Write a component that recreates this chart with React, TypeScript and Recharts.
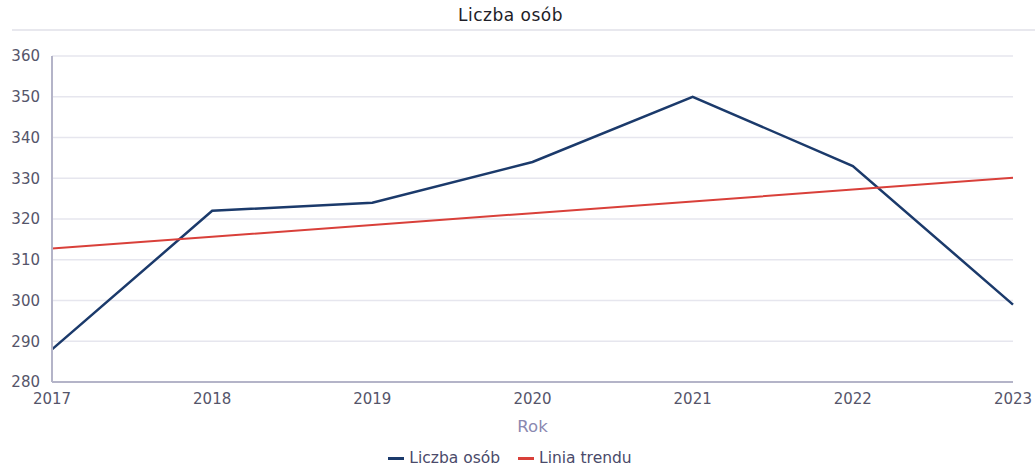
import React from "react";
import { LineChart, Line, XAxis, YAxis, CartesianGrid, Legend } from "recharts";

const years = ["2017", "2018", "2019", "2020", "2021", "2022", "2023"];
const liczbaOsob = [288, 322, 324, 334, 350, 333, 299];
const liniaTrendu = [312.75, 315.64, 318.54, 321.43, 324.32, 327.21, 330.11];
const yTicks = [280, 290, 300, 310, 320, 330, 340, 350, 360];

const data = years.map((y, i) => ({ rok: y, osoby: liczbaOsob[i], trend: liniaTrendu[i] }));

const FONT = "'DejaVu Sans', Verdana, sans-serif";

const renderLegend = () => (
  <div style={{ display: "flex", justifyContent: "center", alignItems: "center", height: 24, fontFamily: FONT, fontSize: 15.5, color: "#4a4a6a" }}>
    {[
      { label: "Liczba osób", color: "#1b3a6b" },
      { label: "Linia trendu", color: "#d9403a" },
    ].map((it, i) => (
      <div key={it.label} style={{ display: "flex", alignItems: "center", marginLeft: i === 0 ? 0 : 18 }}>
        <span style={{ display: "inline-block", width: 16, height: 3, background: it.color, marginRight: 5 }} />
        <span>{it.label}</span>
      </div>
    ))}
  </div>
);

export default function App() {
  return (
    <div style={{ position: "absolute", left: 0, top: 0, width: 1035, height: 470, background: "#fff", fontFamily: FONT }}>
      <div style={{ position: "absolute", left: 0, top: 5, width: 1021, textAlign: "center", fontSize: 17, letterSpacing: 0.5, color: "#1e1e28" }}>
        Liczba osób
      </div>
      <div style={{ position: "absolute", left: 12, top: 29, width: 1023, height: 2, background: "#e8e8ee" }} />
      <LineChart
        width={1035}
        height={470}
        data={data}
        margin={{ top: 56, right: 22, left: 7, bottom: 0 }}
      >
        <CartesianGrid vertical={false} stroke="#e6e6ee" strokeWidth={1.5} />
        <XAxis
          dataKey="rok"
          height={64}
          tickLine={false}
          tickSize={0}
          tickMargin={11}
          axisLine={{ stroke: "#b4b4c8", strokeWidth: 2 }}
          tick={{ fill: "#55556a", fontSize: 15, fontFamily: FONT }}
          interval={0}
          label={{ value: "Rok", position: "insideTop", offset: 38, fill: "#8a88b0", fontSize: 16.5, fontFamily: FONT }}
        />
        <YAxis
          width={45}
          domain={[280, 360]}
          ticks={yTicks}
          tickLine={false}
          tickSize={0}
          tickMargin={12}
          axisLine={{ stroke: "#b4b4c8", strokeWidth: 2 }}
          tick={{ fill: "#55556a", fontSize: 15, fontFamily: FONT }}
        />
        <Legend verticalAlign="bottom" content={renderLegend} wrapperStyle={{ height: 24 }} />
        <Line
          type="linear"
          dataKey="osoby"
          name="Liczba osób"
          stroke="#1b3a6b"
          strokeWidth={2.5}
          dot={false}
          isAnimationActive={false}
        />
        <Line
          type="linear"
          dataKey="trend"
          name="Linia trendu"
          stroke="#d9403a"
          strokeWidth={2}
          dot={false}
          isAnimationActive={false}
        />
      </LineChart>
    </div>
  );
}
